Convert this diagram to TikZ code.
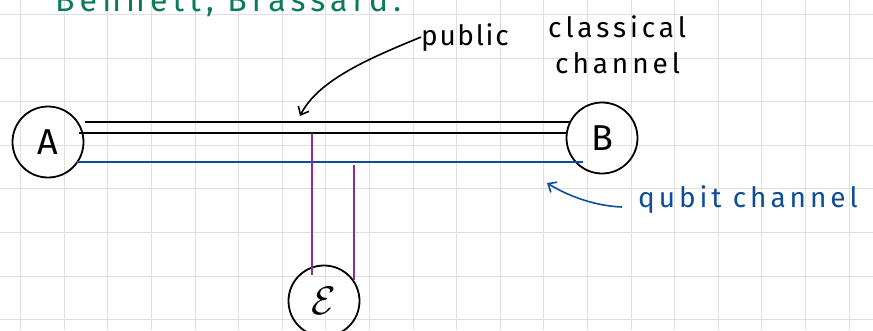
\documentclass[tikz,border=0pt]{standalone}
\usepackage{fontspec}
\setmainfont{Fira Sans}
\usetikzlibrary{arrows.meta,calc}
\definecolor{inkgreen}{HTML}{0B7A5C}
\definecolor{inkblue}{HTML}{0D4C97}
\definecolor{inkpurple}{HTML}{8E2C9E}

\begin{document}
\begin{tikzpicture}[x=1pt,y=-1pt,>={Straight Barb[length=7pt,width=12pt]},
  party/.style={draw,circle,line width=1.8pt,minimum size=71pt,inner sep=0pt,
    font=\fontsize{36}{36}\selectfont},
  ink/.style={line width=1.6pt},
  hand/.style={anchor=base west,inner sep=0pt,
    font=\fontsize{28}{28}\selectfont\addfontfeature{LetterSpace=14}}]
  \useasboundingbox (0,0) rectangle (873,330);
  \clip (0,0) rectangle (873,330);

  % squared paper
  \foreach \gx in {0,...,19}
    \draw[black!12,line width=0.9pt] ({20.7+43.6*\gx},0) -- ++(0,330);
  \foreach \gy in {0,...,7}
    \draw[black!12,line width=0.9pt] (0,{14.5+43.6*\gy}) -- ++(873,0);

  \node[hand,text=inkgreen,font=\fontsize{32}{32}\selectfont\addfontfeature{LetterSpace=16}]
    (title) at (55,11) {Bennett, Brassard.};

  \node[party] (A) at (48,142) {A};
  \node[party] (B) at (602,138) {B};
  \node[party] (E) at (324,301) {\scalebox{1.6}{$\mathcal{E}$}};

  % classical channel (two wires) and qubit channel
  \coordinate (ca1) at ($(A)+(37,-20)$);
  \coordinate (cb1) at ($(B)+(-32,-16)$);
  \coordinate (ca2) at ($(A)+(31,-9)$);
  \coordinate (cb2) at ($(B)+(-35,-5)$);
  \coordinate (qa) at ($(A)+(29,20)$);
  \coordinate (qb) at ($(B)+(-19,24)$);
  \draw[ink] (ca1) -- (cb1);
  \draw[ink] (ca2) -- (cb2);
  \draw[ink,inkblue] (qa) -- (qb);

  % Eve taps in
  \coordinate (e1) at (312,133);
  \coordinate (e2) at (354,165);
  \draw[ink,inkpurple] (e1) -- (e1 |- E.north west);
  \draw[ink,inkpurple] (e2) -- ($(E)+(30,-21)$);

  \node[hand,font=\fontsize{28}{28}\selectfont\addfontfeature{LetterSpace=6}]
    (pub) at (421,45) {public};
  \node[hand] (cls) at (548,37) {classical};
  \node[hand] (chn) at (555,73) {channel};
  \draw[ink,->] (pub.west) .. controls (370,58) and (318,80) .. (300,116);

  \node[hand,text=inkblue] (qlab) at (638,207) {qubit channel};
  \draw[ink,inkblue,->] ($(qlab.base west)+(-16,0)$)
    .. controls (595,206) and (568,196) .. (547,183);
\end{tikzpicture}
\end{document}
